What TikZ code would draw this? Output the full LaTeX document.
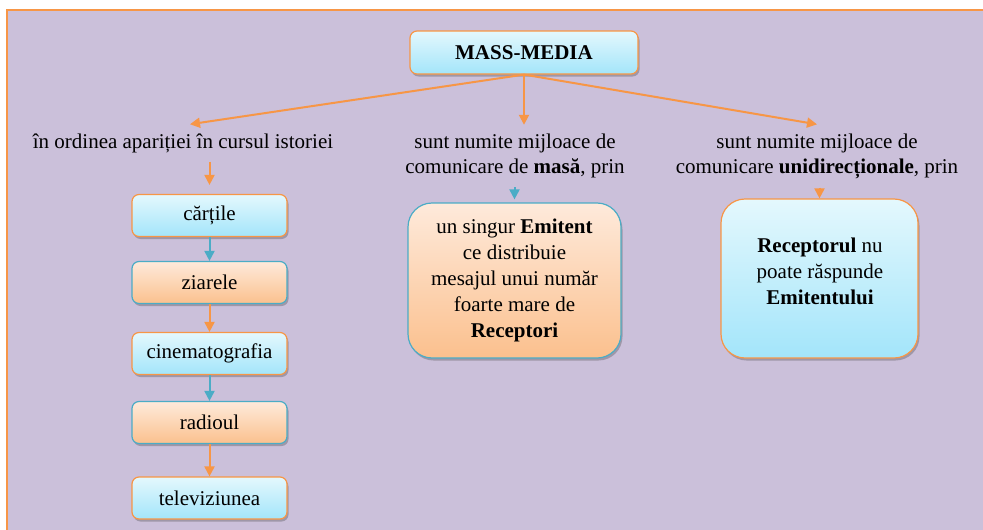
\documentclass[tikz,border=0pt]{standalone}
\usepackage{fontspec}
\setmainfont{Liberation Serif}
\usetikzlibrary{arrows.meta,shadows}

\definecolor{lav}{HTML}{CBC0DA}
\definecolor{orline}{HTML}{F79646}
\definecolor{blline}{HTML}{4BACC6}
\definecolor{bluetop}{HTML}{E4F8FD}
\definecolor{bluebot}{HTML}{A3E5FA}
\definecolor{ortop}{HTML}{FEEADB}
\definecolor{orbot}{HTML}{FBC08E}

\tikzset{
  boxshadow/.style={drop shadow={shadow xshift=1.5pt, shadow yshift=-2.5pt, opacity=0.35, fill=black!70}},
  bluebox/.style={draw=orline, line width=1.2pt, top color=bluetop, bottom color=bluebot, boxshadow, inner sep=0pt, align=center},
  orbox/.style={draw=blline, line width=1.2pt, top color=ortop, bottom color=orbot, boxshadow, inner sep=0pt, align=center},
  smallbox/.style={rounded corners=7pt, minimum width=155pt, minimum height=42pt},
  bigbox/.style={rounded corners=24pt, font=\fontsize{21}{26}\selectfont},
  label text/.style={inner xsep=0pt, inner ysep=9pt, align=center},
  orarrow/.style={draw=orline, line width=2pt, -{Triangle[length=10pt,width=10pt]}},
  blarrow/.style={draw=blline, line width=2pt, -{Triangle[length=10pt,width=10pt]}}
}

\begin{document}
\begin{tikzpicture}[x=1pt, y=-1pt, font=\fontsize{21}{25}\selectfont]
  \useasboundingbox (0,0) rectangle (983,530);
  % page background with orange top and left edges
  \fill[white] (0,0) rectangle (983,530);
  \fill[lav] (7,10) rectangle (983,530);
  \draw[orline, line width=2pt] (7,530) -- (7,10) -- (983,10);

  % title
  \node[bluebox, rounded corners=7pt, minimum width=228pt, minimum height=43pt] (media) at (524,52.5) {\textbf{MASS-MEDIA}};

  % three branches
  \node[label text] (lefttext) at (183,143) {în ordinea apariției în cursul istoriei};
  \node[label text] (midtext) at (515,156) {sunt numite mijloace de\\comunicare de \textbf{masă}, prin};
  \node[label text] (righttext) at (817,156) {sunt numite mijloace de\\comunicare \textbf{unidirecționale}, prin};

  \draw[orarrow] (media.south) -- ([xshift=7pt]lefttext.north);
  \draw[orarrow] (media.south) -- (media.south |- midtext.north);
  \draw[orarrow] (media.south) -- (righttext.north);

  % chronological chain
  \node[bluebox, smallbox] (cartile) at (209.5,215.5) {cărțile};
  \node[orbox, smallbox] (ziarele) at (209.5,282.5) {ziarele};
  \node[bluebox, smallbox] (cinema) at (209.5,353.5) {cinematografia};
  \node[orbox, smallbox] (radioul) at (209.5,422.5) {radioul};
  \node[bluebox, smallbox] (tv) at (209.5,498) {televiziunea};

  \draw[orarrow, shorten >=9pt] (lefttext.south -| cartile.north) -- (cartile.north);
  \draw[blarrow] (cartile) -- (ziarele);
  \draw[orarrow] (ziarele) -- (cinema);
  \draw[blarrow] (cinema) -- (radioul);
  \draw[orarrow] (radioul) -- (tv);

  % mass communication box
  \node[orbox, bigbox, minimum width=213pt, minimum height=155pt] (mbox) at (514.5,280.5)
    {un singur \textbf{Emitent}\\ce distribuie\\mesajul unui număr\\foarte mare de\\\textbf{Receptori}};
  \draw[blarrow, shorten >=3pt] (midtext.south -| mbox.north) -- (mbox.north);

  % one-way communication box
  \node[bluebox, bigbox, minimum width=197pt, minimum height=159pt] (rbox) at (819.5,278.5) {};
  \node[align=center, inner sep=0pt, font=\fontsize{21}{26}\selectfont] (rboxtext) at (820,271)
    {\textbf{Receptorul} nu\\poate răspunde\\\textbf{Emitentului}};
  \draw[orarrow] (righttext.south -| rbox.north) -- (rbox.north);
\end{tikzpicture}
\end{document}
